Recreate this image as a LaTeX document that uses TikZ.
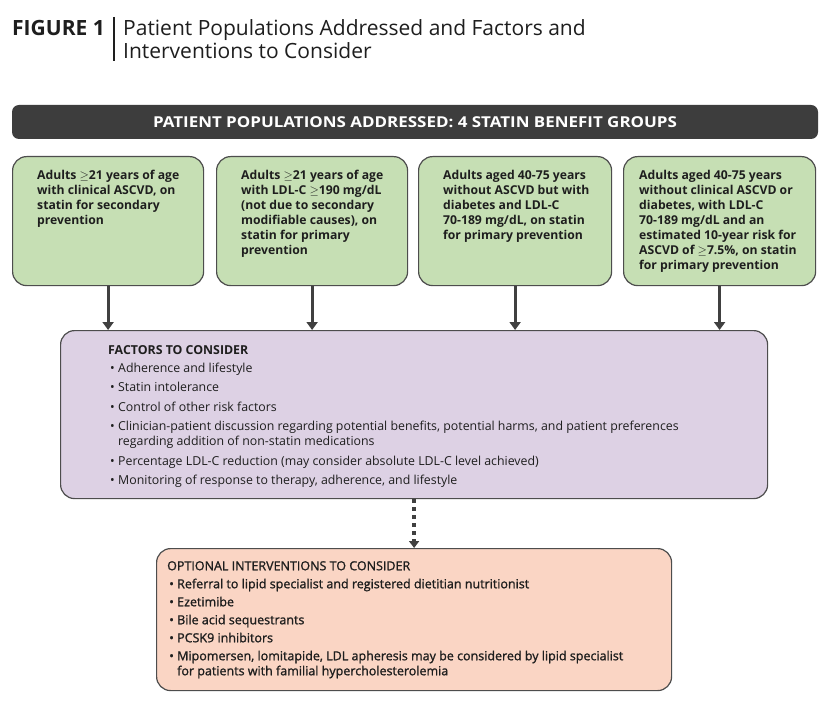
\documentclass[tikz,border=0pt]{standalone}
\usepackage{fontspec}
\setmainfont{Open Sans}
\newfontfamily\medfont[FakeBold=1.3]{Open Sans}
\usetikzlibrary{arrows.meta}
\definecolor{banner}{HTML}{3D3D3D}
\definecolor{gfill}{HTML}{C6DFB4}
\definecolor{pfill}{HTML}{DDD1E4}
\definecolor{ofill}{HTML}{FAD5C4}
\definecolor{edgec}{HTML}{4D4D4D}
\definecolor{arrowc}{HTML}{404040}
\definecolor{txt}{HTML}{1E1E1E}
\newcommand\gesym{$\geq$}
\newcommand\bul{\hspace*{2pt}\makebox[8pt][l]{\textbullet}}
\newcommand\ind{\hspace*{10pt}}
\begin{document}
\begin{tikzpicture}[x=1pt,y=-1pt,
  box/.style={draw=edgec, line width=1.2pt, rounded corners=14pt, anchor=north west, inner sep=0pt},
  gbox/.style={box, fill=gfill, minimum width=191pt, minimum height=129pt},
  gtext/.style={anchor=north west, inner sep=0pt, align=left, text=txt,
    font=\bfseries\fontsize{12.2}{15}\selectfont},
  ptext/.style={anchor=north west, inner sep=0pt, align=left, text=txt,
    font=\fontsize{12.35}{15}\selectfont},
  otext/.style={anchor=north west, inner sep=0pt, align=left, text=txt,
    font=\medfont\fontsize{12.5}{15}\selectfont},
  arr/.style={draw=arrowc, line width=3pt, -{Triangle[length=8pt,width=11pt]}},
  darr/.style={draw=arrowc, line width=4pt, dash pattern=on 4pt off 4pt, -{Triangle[length=7pt,width=10pt]}}
]
\useasboundingbox (0,0) rectangle (832,703);
\fill[white] (0,0) rectangle (832,703);

% title
\node[anchor=base west, inner sep=0pt, text=txt, font=\bfseries\fontsize{21}{22}\selectfont] (fig) at (12,36) {FIGURE 1};
\node[anchor=base west, inner sep=0pt, text=txt, font=\fontsize{21}{22}\selectfont] (tl1) at (123,36) {Patient Populations Addressed and Factors and};
\node[anchor=base west, inner sep=0pt, text=txt, font=\fontsize{21}{22}\selectfont] (tl2) at (123,59) {Interventions to Consider};
\coordinate (bartop) at (114,17);
\coordinate (barbot) at (114,61);
\draw[line width=1.6pt, txt] (bartop) -- (barbot);

% banner
\node[fill=banner, rounded corners=7pt, minimum width=806pt, minimum height=34pt, inner sep=0pt,
  text=white, font=\bfseries\fontsize{15}{16}\selectfont] (ban) at (415,122)
  {\scalebox{1.13}[1]{PATIENT POPULATIONS ADDRESSED: 4 STATIN BENEFIT GROUPS}};

% green boxes
\node[gbox] (g1) at (12,156) {};
\node[gbox] (g2) at (216,156) {};
\node[gbox, minimum width=193pt] (g3) at (418,156) {};
\node[gbox, minimum width=192pt] (g4) at (623,156) {};

\node[gtext] (t1) at (37,170) {Adults \gesym21 years of age\\with clinical ASCVD, on\\statin for secondary\\prevention};
\node[gtext] (t2) at (241,170) {Adults \gesym21 years of age\\with LDL-C \gesym190 mg/dL\\(not due to secondary\\modifiable causes), on\\statin for primary\\prevention};
\node[gtext] (t3) at (443,170) {Adults aged 40-75 years\\without ASCVD but with\\diabetes and LDL-C\\70-189 mg/dL, on statin\\for primary prevention};
\node[gtext] (t4) at (639,170) {Adults aged 40-75 years\\without clinical ASCVD or\\diabetes, with LDL-C\\70-189 mg/dL and an\\estimated 10-year risk for\\ASCVD of \gesym7.5\%, on statin\\for primary prevention};

% factors box
\node[box, fill=pfill, minimum width=707pt, minimum height=168pt] (fac) at (60,330) {};
\node[ptext] (ft) at (108,345) {{\bfseries FACTORS TO CONSIDER}\\[3pt]
\bul Adherence and lifestyle\\[4.5pt]
\bul Statin intolerance\\[4.5pt]
\bul Control of other risk factors\\[4.5pt]
\bul Clinician-patient discussion regarding potential benefits, potential harms, and patient preferences\\
\ind regarding addition of non-statin medications\\[4.5pt]
\bul Percentage LDL-C reduction (may consider absolute LDL-C level achieved)\\[4.5pt]
\bul Monitoring of response to therapy, adherence, and lifestyle};

% interventions box
\node[box, fill=ofill, minimum width=515pt, minimum height=142pt] (opt) at (156,548) {};
\node[otext] (ot) at (167,561) {OPTIONAL INTERVENTIONS TO CONSIDER\\[3pt]
\bul Referral to lipid specialist and registered dietitian nutritionist\\[3pt]
\bul Ezetimibe\\[3pt]
\bul Bile acid sequestrants\\[3pt]
\bul PCSK9 inhibitors\\[3pt]
\bul Mipomersen, lomitapide, LDL apheresis may be considered by lipid specialist\\
\ind for patients with familial hypercholesterolemia};

% arrows
\foreach \g in {g1,g2,g3,g4}{
  \draw[arr] (\g.south) -- (\g.south |- fac.north);
}
\draw[darr] (fac.south) -- (opt.north);
\end{tikzpicture}
\end{document}
